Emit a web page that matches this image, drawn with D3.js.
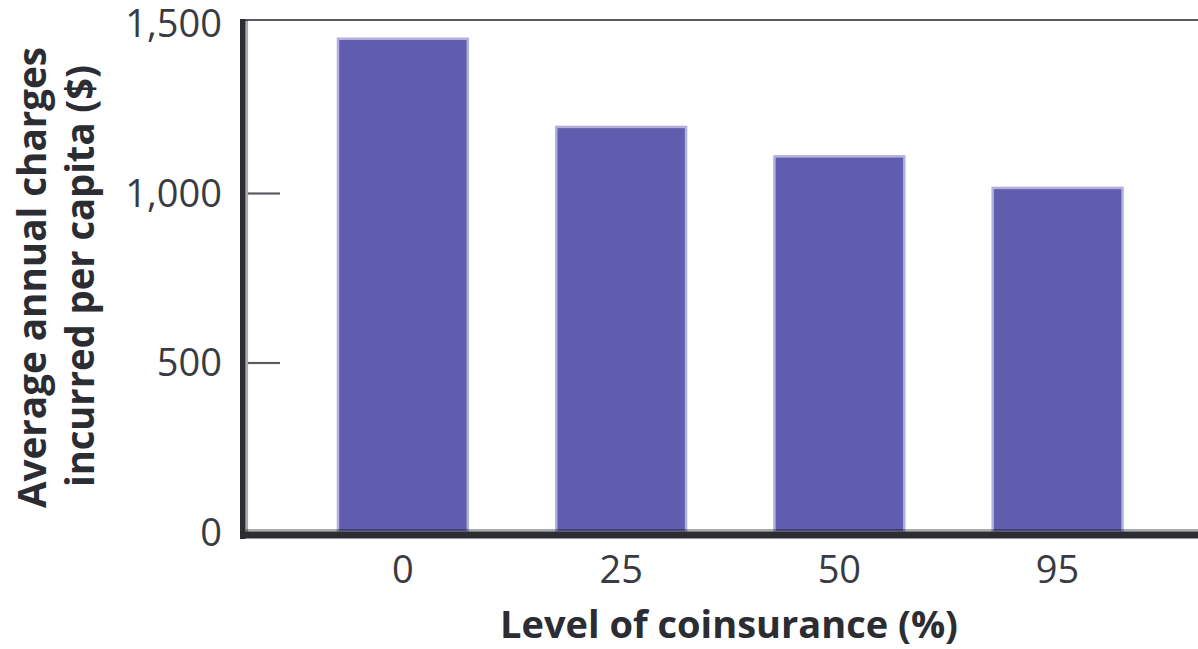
<!DOCTYPE html>
<html>
<head>
<meta charset="utf-8">
<script src="https://cdn.jsdelivr.net/npm/d3@7"></script>
<style>
  html, body { margin: 0; padding: 0; background: #fff; }
  svg { display: block; }
</style>
</head>
<body>
<script>
// Coinsurance level (%) and average annual charges per capita ($)
const categories = ["0", "25", "50", "95"];
const charges = [1455, 1195, 1108, 1015];
const yTicks = [0, 500, 1000, 1500];

const W = 1198, H = 649;
const svg = d3.select("body").append("svg").attr("width", W).attr("height", H);

const font = "'Open Sans', 'Noto Sans', sans-serif";
const ink = "#2b2d33";

const x = d3.scaleBand()
  .domain(categories)
  .range([248.5, 1212])
  .paddingInner(0.405)
  .paddingOuter(0.41);

const y = d3.scaleLinear().domain([0, 1500]).range([532, 23.5]);

// frame line across the top
svg.append("line")
  .attr("x1", 243).attr("x2", W)
  .attr("y1", 20).attr("y2", 20)
  .attr("stroke", "#5b5b61").attr("stroke-width", 2.2);

// bars
svg.append("g").selectAll("rect")
  .data(charges)
  .join("rect")
  .attr("x", (d, i) => x(categories[i]))
  .attr("y", d => y(d))
  .attr("width", x.bandwidth())
  .attr("height", d => y(0) - y(d))
  .attr("fill", "#605cae")
  .attr("stroke", "#b3b0dc")
  .attr("stroke-width", 2.5);

// y axis: inward ticks, labels on the left
const yAxis = d3.axisLeft(y)
  .tickValues(yTicks)
  .tickFormat(d3.format(","))
  .tickSizeInner(-32)
  .tickSizeOuter(0)
  .tickPadding(26);

const gy = svg.append("g").attr("transform", "translate(248,0)").call(yAxis);
gy.select(".domain").remove();
gy.selectAll(".tick line").attr("stroke", "#5b5b61").attr("stroke-width", 2.2)
  .filter(d => d === 0 || d === 1500).remove();
gy.selectAll(".tick text")
  .attr("font-family", font).attr("font-size", 38)
  .attr("fill", "#3a3b42").attr("dy", "0.35em");

// x axis labels
const xAxis = d3.axisBottom(x).tickSize(0).tickPadding(18);
const gx = svg.append("g").attr("transform", "translate(0,538)").call(xAxis);
gx.select(".domain").remove();
gx.selectAll(".tick text")
  .attr("font-family", font).attr("font-size", 38)
  .attr("fill", "#3a3b42").attr("dy", "0.71em");

// axis lines: dark rule with a soft grey inner edge
svg.append("rect").attr("x", 245.5).attr("y", 20).attr("width", 2.6).attr("height", 512)
  .attr("fill", "rgba(0,0,0,0.33)");
svg.append("rect").attr("x", 245.5).attr("y", 529).attr("width", W - 245.5).attr("height", 2.6)
  .attr("fill", "rgba(0,0,0,0.33)");
svg.append("rect").attr("x", 240).attr("y", 19).attr("width", 5.5).attr("height", 520)
  .attr("fill", ink);
svg.append("rect").attr("x", 240).attr("y", 531.5).attr("width", W - 240).attr("height", 7)
  .attr("fill", ink);

// axis titles
svg.append("text")
  .attr("x", 729).attr("y", 638)
  .attr("text-anchor", "middle")
  .attr("font-family", font).attr("font-weight", 700).attr("font-size", 38)
  .attr("fill", ink)
  .attr("textLength", 458).attr("lengthAdjust", "spacingAndGlyphs")
  .text("Level of coinsurance (%)");

const yTitle = [
  { text: "Average annual charges", x: 46, cy: 277.5, len: 461 },
  { text: "incurred per capita ($)", x: 94, cy: 276, len: 422 }
];
svg.append("g").selectAll("text")
  .data(yTitle)
  .join("text")
  .attr("transform", d => `translate(${d.x},${d.cy}) rotate(-90)`)
  .attr("text-anchor", "middle")
  .attr("font-family", font).attr("font-weight", 700).attr("font-size", 39)
  .attr("fill", ink)
  .attr("textLength", d => d.len).attr("lengthAdjust", "spacingAndGlyphs")
  .text(d => d.text);
</script>
</body>
</html>
